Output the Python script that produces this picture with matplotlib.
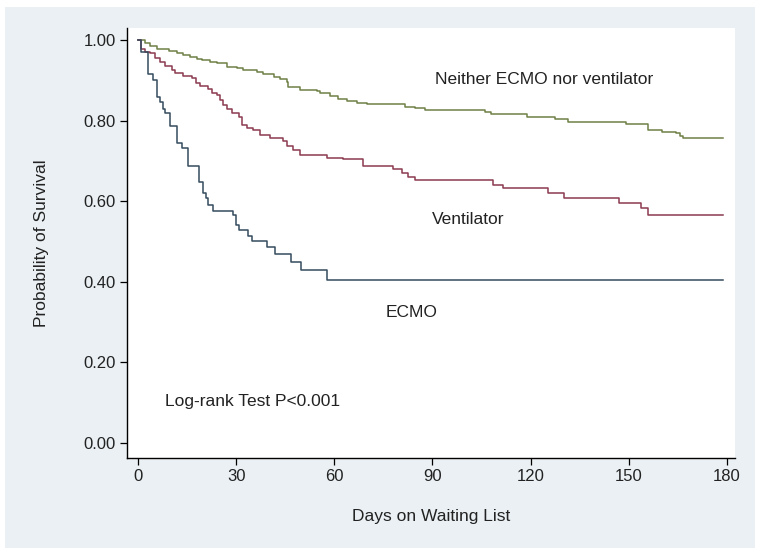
import matplotlib
matplotlib.use("Agg")
import matplotlib.pyplot as plt
from matplotlib.patches import Rectangle

# --- Kaplan-Meier step data ---
ecmo_days = [0, 1.0, 3.1, 4.7, 5.9, 6.7, 7.5, 8.3, 9.8, 12.0, 13.4, 15.4, 18.7,
             19.9, 20.9, 21.5, 22.8, 28.9, 30.0, 30.7, 33.7, 34.7, 39.3, 41.9,
             46.8, 49.7, 57.7, 178.8]
ecmo_surv = [1.0, 0.971, 0.917, 0.901, 0.859, 0.847, 0.828, 0.818, 0.787, 0.744,
             0.731, 0.688, 0.647, 0.620, 0.607, 0.591, 0.577, 0.566, 0.541, 0.529,
             0.514, 0.501, 0.487, 0.469, 0.450, 0.429, 0.404, 0.404]

vent_days = [0, 0.8, 2.1, 3.7, 5.2, 6.7, 8.3, 10.3, 11.3, 13.8, 16.4, 17.7, 18.9,
             21.5, 22.6, 24.1, 25.1, 26.0, 27.1, 28.6, 30.7, 31.7, 33.3, 35.2,
             37.3, 40.3, 44.4, 45.4, 47.5, 49.5, 57.7, 62.7, 68.9, 78.0, 80.6,
             82.6, 84.7, 108.6, 111.6, 125.4, 130.3, 147.1, 153.9, 156.0, 178.8]
vent_surv = [1.0, 0.978, 0.971, 0.967, 0.955, 0.945, 0.935, 0.926, 0.918, 0.910,
             0.905, 0.893, 0.886, 0.878, 0.868, 0.863, 0.851, 0.839, 0.830, 0.818,
             0.810, 0.789, 0.782, 0.777, 0.764, 0.756, 0.750, 0.737, 0.727, 0.714,
             0.708, 0.705, 0.687, 0.679, 0.670, 0.661, 0.653, 0.640, 0.632, 0.620,
             0.607, 0.595, 0.583, 0.567, 0.567]

neither_days = [0, 2.1, 3.7, 5.7, 7.7, 9.3, 11.8, 13.8, 15.9, 17.9, 19.5, 22.0,
                24.1, 27.1, 30.2, 32.2, 34.2, 36.3, 38.3, 41.4, 43.4, 45.4, 45.9,
                49.5, 54.6, 55.6, 58.7, 61.2, 63.8, 66.8, 69.9, 81.6, 84.7, 87.7,
                106.1, 107.9, 118.8, 127.4, 131.5, 149.3, 156.0, 160.1, 164.6,
                165.6, 166.5, 178.8]
neither_surv = [1.0, 0.992, 0.985, 0.979, 0.977, 0.973, 0.967, 0.963, 0.958, 0.954,
                0.950, 0.946, 0.942, 0.934, 0.930, 0.927, 0.926, 0.921, 0.917, 0.909,
                0.903, 0.897, 0.883, 0.876, 0.873, 0.868, 0.861, 0.855, 0.849, 0.844,
                0.841, 0.835, 0.832, 0.826, 0.822, 0.816, 0.810, 0.804, 0.797, 0.791,
                0.777, 0.771, 0.769, 0.762, 0.756, 0.756]

x_ticks = [0, 30, 60, 90, 120, 150, 180]
y_ticks = [0.0, 0.2, 0.4, 0.6, 0.8, 1.0]

plt.rcParams["font.family"] = ["Liberation Sans", "DejaVu Sans"]

fig = plt.figure(figsize=(7.62, 5.55), dpi=100, facecolor="white")
# Stata-like light bluish graph region, drawn behind the axes
fig.patches.append(Rectangle((5 / 762, 1 - 548 / 555), 750 / 762, 541 / 555,
                             transform=fig.transFigure, facecolor="#eaf0f3",
                             edgecolor="none", zorder=-10))

ax = fig.add_axes([127 / 762, 1 - 458 / 555, 608 / 762, 430 / 555])
ax.set_facecolor("white")

ax.step(neither_days, neither_surv, where="post", color="#6f8046", lw=1.1)
ax.step(vent_days, vent_surv, where="post", color="#8c3a4f", lw=1.1)
ax.step(ecmo_days, ecmo_surv, where="post", color="#344b5e", lw=1.1)

ax.set_xlim(-3.4, 182.5)
ax.set_ylim(-0.037, 1.03)
ax.set_xticks(x_ticks)
ax.set_yticks(y_ticks)
ax.set_yticklabels([f"{v:.2f}" for v in y_ticks])

for side in ["top", "right"]:
    ax.spines[side].set_visible(False)
for side in ["left", "bottom"]:
    ax.spines[side].set_linewidth(1.0)
    ax.spines[side].set_color("black")

ax.tick_params(direction="out", length=5, width=0.9, colors="black",
               labelsize=12, pad=3)
for lbl in ax.get_xticklabels() + ax.get_yticklabels():
    lbl.set_family(["Liberation Sans Narrow", "Liberation Sans"])
    lbl.set_color("#222222")

ax.set_xlabel("Days on Waiting List", fontsize=12.5, color="#222222", labelpad=18)
ax.set_ylabel("Probability of Survival", fontsize=12.5, color="#222222", labelpad=25)

ax.text(90.8, 0.903, "Neither ECMO nor ventilator", fontsize=12.5,
        color="#222222", va="center", ha="left")
ax.text(89.9, 0.555, "Ventilator", fontsize=12.5, color="#222222",
        va="center", ha="left")
ax.text(75.8, 0.323, "ECMO", fontsize=12.5, color="#222222",
        va="center", ha="left")
ax.text(8.3, 0.102, "Log-rank Test P<0.001", fontsize=12.5, color="#222222",
        va="center", ha="left")

fig.savefig("out.png", dpi=100, facecolor=fig.get_facecolor())
